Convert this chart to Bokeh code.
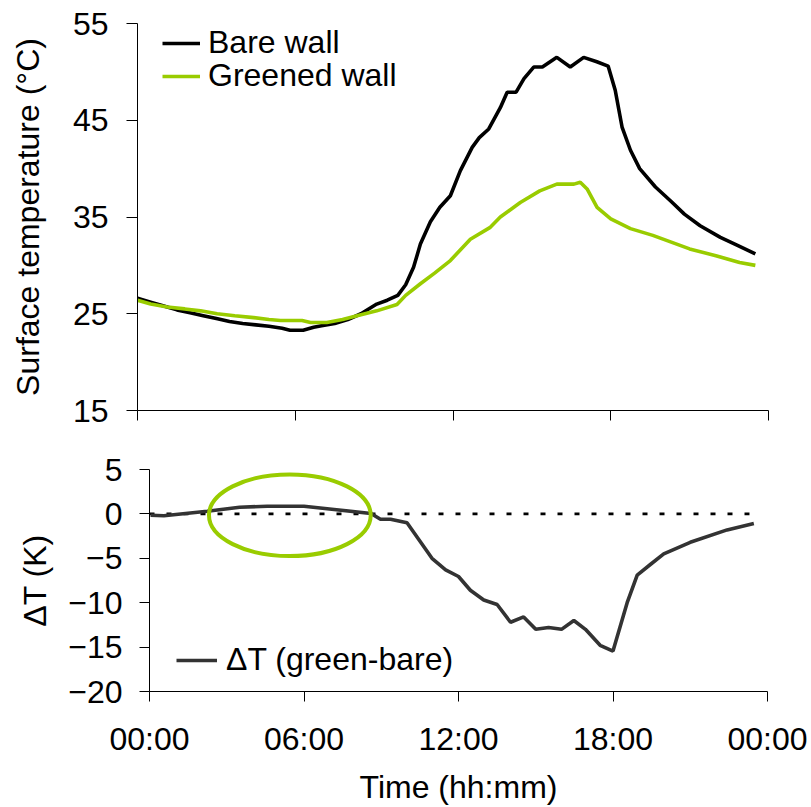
from bokeh.plotting import figure
from bokeh.models import Range1d, FixedTicker, Legend, LegendItem
from bokeh.embed import file_html
from bokeh.resources import INLINE

# ---------------- data ----------------
bare_t = [0.0, 0.5, 1.0, 1.5, 2.0, 2.5, 3.0, 3.5, 4.0, 4.5, 5.0, 5.5, 5.8, 6.3, 6.7,
          7.0, 7.5, 8.0, 8.5, 9.1, 9.5, 9.9, 10.2, 10.5, 10.76, 11.14, 11.5, 11.9,
          12.28, 12.73, 13.0, 13.36, 13.8, 14.06, 14.4, 14.7, 15.07, 15.4, 15.95,
          16.46, 16.97, 17.47, 17.9, 18.17, 18.43, 18.75, 19.1, 19.7, 20.3, 20.8,
          21.4, 22.17, 22.8, 23.5]
bare_temp = [26.6, 26.2, 25.8, 25.4, 25.1, 24.8, 24.5, 24.2, 24.0, 23.85, 23.7, 23.5,
             23.3, 23.3, 23.6, 23.75, 24.0, 24.4, 25.0, 26.0, 26.4, 26.9, 28.0, 29.8,
             32.2, 34.5, 36.0, 37.2, 39.8, 42.2, 43.2, 44.1, 46.3, 47.9, 47.9, 49.3,
             50.5, 50.5, 51.5, 50.5, 51.5, 51.05, 50.6, 48.1, 44.3, 41.9, 40.0, 38.1,
             36.6, 35.3, 34.1, 32.9, 32.1, 31.2]

green_t = [0.0, 0.5, 1.13, 1.8, 2.4, 3.03, 3.7, 4.42, 5.0, 5.44, 6.26, 6.58, 7.2, 7.8,
           8.35, 9.1, 9.87, 10.2, 10.76, 11.3, 11.9, 12.66, 13.4, 13.8, 14.56, 15.3,
           15.95, 16.6, 16.84, 17.1, 17.48, 18.0, 18.75, 19.6, 20.3, 21.0, 22.0, 22.9,
           23.5]
green_temp = [26.4, 26.0, 25.7, 25.5, 25.3, 25.0, 24.8, 24.6, 24.4, 24.3, 24.3, 24.1,
              24.1, 24.4, 24.8, 25.3, 25.95, 26.9, 28.1, 29.2, 30.5, 32.7, 33.9, 35.0,
              36.5, 37.7, 38.4, 38.4, 38.6, 37.9, 36.0, 34.8, 33.8, 33.1, 32.4, 31.7,
              31.0, 30.3, 30.0]

dt_t = [0.04, 0.56, 1.4, 2.24, 3.5, 4.57, 6.0, 7.17, 8.6, 8.97, 9.36, 10.0, 10.97,
        11.5, 12.0, 12.46, 12.98, 13.5, 14.02, 14.53, 15.0, 15.5, 16.0, 16.48, 16.93,
        17.5, 18.0, 18.55, 18.94, 19.45, 19.97, 21.0, 22.43, 23.47]
dt_val = [-0.15, -0.2, 0.05, 0.3, 0.75, 0.86, 0.86, 0.5, 0.05, -0.6, -0.6, -1.0, -5.0,
          -6.3, -7.05, -8.6, -9.7, -10.2, -12.2, -11.6, -13.0, -12.8, -13.0, -12.0,
          -13.0, -14.8, -15.45, -10.0, -6.9, -5.7, -4.5, -3.2, -1.8, -1.08]

zero_t = [0.0, 23.3]
zero_val = [0.0, 0.0]

# highlighted night-time window (hours, K)
highlight_t = [2.31, 8.59]
highlight_v = [-4.75, 4.45]

x_ticks = [0, 6, 12, 18, 24]
x_tick_labels = ["00:00", "06:00", "12:00", "18:00", "00:00"]
top_y_ticks = [15, 25, 35, 45, 55]
bot_y_ticks = [-20, -15, -10, -5, 0, 5]

# ---------------- styling ----------------
FONT = "Liberation Sans"
FS = "32px"
GREEN = "#99cc00"
DARK = "#333333"
LW = 3.6


def style_axes(p):
    for ax in (p.xaxis[0], p.yaxis[0]):
        ax.axis_line_color = "black"
        ax.axis_line_width = 1
        ax.major_tick_line_color = "black"
        ax.major_tick_in = 0
        ax.minor_tick_line_color = None
        ax.major_label_text_font = FONT
        ax.major_label_text_font_size = FS
        ax.major_label_text_color = "black"
        ax.axis_label_text_font = FONT
        ax.axis_label_text_font_size = FS
        ax.axis_label_text_font_style = "normal"
        ax.axis_label_text_color = "black"
    p.xgrid.visible = False
    p.ygrid.visible = False
    p.outline_line_color = None


# ---------------- top panel ----------------
p1 = figure(width=805, height=440, output_backend="svg", toolbar_location=None,
            x_range=Range1d(0, 24), y_range=Range1d(15, 55),
            min_border_left=137, min_border_right=37, min_border_top=23,
            min_border_bottom=30)
style_axes(p1)
p1.xaxis.ticker = FixedTicker(ticks=x_ticks)
p1.xaxis.major_label_overrides = {t: "" for t in x_ticks}
p1.xaxis.major_tick_out = 10
p1.xaxis.major_label_standoff = 0
p1.yaxis.ticker = FixedTicker(ticks=top_y_ticks)
p1.yaxis.major_tick_out = 11
p1.yaxis.major_label_standoff = 18
p1.yaxis.axis_label = "Surface temperature (°C)"
p1.yaxis.axis_label_standoff = 24

r_bare = p1.line(bare_t, bare_temp, line_color="black", line_width=LW)
r_green = p1.line(green_t, green_temp, line_color=GREEN, line_width=LW)

for label, rend, ypos in (("Bare wall", r_bare, 349), ("Greened wall", r_green, 316)):
    lg = Legend(items=[LegendItem(label=label, renderers=[rend])], location=(25, ypos),
                padding=0, margin=0, spacing=0, glyph_width=38, label_standoff=8,
                border_line_color=None, background_fill_alpha=0,
                label_text_font=FONT, label_text_font_size=FS, label_text_color="black")
    p1.add_layout(lg)

# ---------------- bottom panel ----------------
p2 = figure(width=811, height=367, output_backend="svg", toolbar_location=None,
            x_range=Range1d(0, 24), y_range=Range1d(-20, 5),
            min_border_left=149, min_border_right=44, min_border_top=29,
            min_border_bottom=115)
style_axes(p2)
p2.xaxis.ticker = FixedTicker(ticks=x_ticks)
p2.xaxis.major_label_overrides = {t: s for t, s in zip(x_ticks, x_tick_labels)}
p2.xaxis.major_tick_out = 10
p2.xaxis.major_label_standoff = 19
p2.xaxis.axis_label = "Time (hh:mm)"
p2.xaxis.axis_label_standoff = 9
p2.yaxis.ticker = FixedTicker(ticks=bot_y_ticks)
p2.yaxis.major_tick_out = 10
p2.yaxis.major_label_standoff = 17
p2.yaxis.axis_label = "ΔT (K)"
p2.yaxis.axis_label_standoff = 12

p2.line(zero_t, zero_val, line_color="black", line_width=2.6, line_dash="5 12")
r_dt = p2.line(dt_t, dt_val, line_color=DARK, line_width=LW)

cx = (highlight_t[0] + highlight_t[1]) / 2
cy = (highlight_v[0] + highlight_v[1]) / 2
p2.ellipse(x=[cx], y=[cy], width=[highlight_t[1] - highlight_t[0]],
           height=[highlight_v[1] - highlight_v[0]], fill_color=None,
           line_color=GREEN, line_width=4)

lg2 = Legend(items=[LegendItem(label="ΔT (green-bare)", renderers=[r_dt])],
             location=(27, 13), padding=0, margin=0, spacing=0, glyph_width=41,
             label_standoff=9, border_line_color=None, background_fill_alpha=0,
             label_text_font=FONT, label_text_font_size=FS, label_text_color="black")
p2.add_layout(lg2)

open("out.html", "w").write(file_html([p1, p2], INLINE))
